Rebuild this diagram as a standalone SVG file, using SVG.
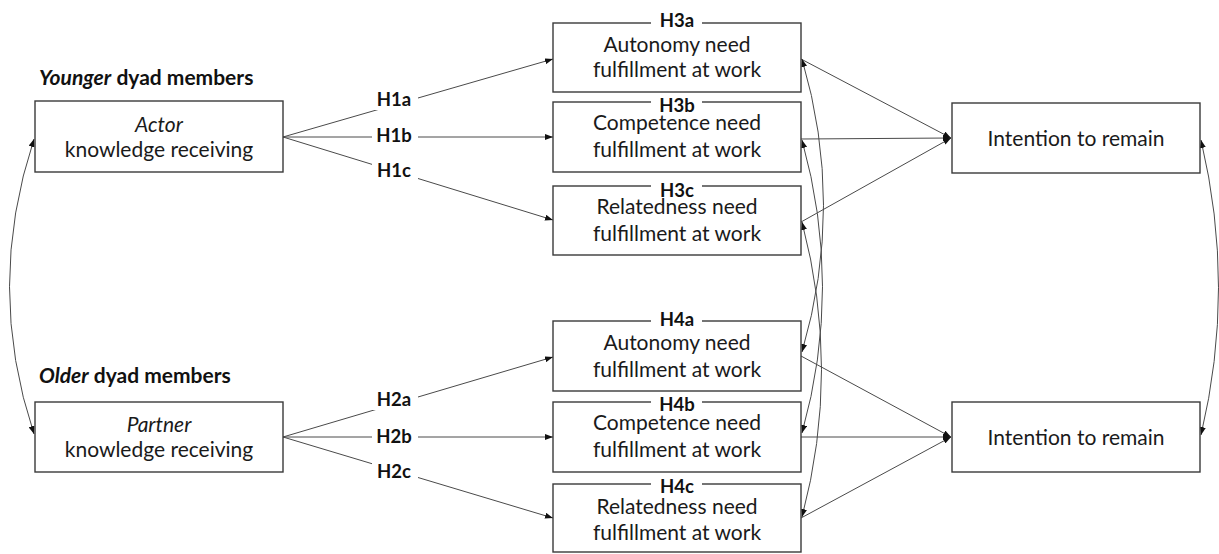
<svg xmlns="http://www.w3.org/2000/svg" width="1219" height="554" viewBox="0 0 1219 554">
<style>
  .box { fill: #ffffff; stroke: #3a3a3a; stroke-width: 1.4; }
  .txt { font-family: Lato, "Liberation Sans", sans-serif; font-size: 21px; fill: #1a1a1a; text-anchor: middle; }
  .it { font-style: italic; }
  .hdr { font-family: Lato, "Liberation Sans", sans-serif; font-size: 21px; font-weight: bold; fill: #111; }
  .lbl { font-family: Lato, "Liberation Sans", sans-serif; font-size: 18.5px; font-weight: bold; fill: #111; text-anchor: middle; }
  .bg { fill: #ffffff; }
  .ln { fill: none; stroke: #4a4a4a; stroke-width: 1; }
</style>
<defs>
  <marker id="ah" viewBox="0 0 8 6" refX="8" refY="3" markerWidth="8" markerHeight="6" markerUnits="userSpaceOnUse" orient="auto-start-reverse">
    <path d="M0,0 L8,3 L0,6 z" fill="#111"/>
  </marker>
</defs>
<rect width="1219" height="554" fill="#ffffff"/>

<g id="connectors">
  <path class="ln" d="M283,137 L553,59" marker-end="url(#ah)"/>
  <path class="ln" d="M283,137 L553,137" marker-end="url(#ah)"/>
  <path class="ln" d="M283,137 L553,220" marker-end="url(#ah)"/>
  <path class="ln" d="M283,437 L553,357" marker-end="url(#ah)"/>
  <path class="ln" d="M283,437 L553,437" marker-end="url(#ah)"/>
  <path class="ln" d="M283,437 L553,518" marker-end="url(#ah)"/>
  <path class="ln" d="M801,59 L951,138" marker-end="url(#ah)"/>
  <path class="ln" d="M801,139 L951,138" marker-end="url(#ah)"/>
  <path class="ln" d="M801,222 L951,138" marker-end="url(#ah)"/>
  <path class="ln" d="M801,356 L951,437" marker-end="url(#ah)"/>
  <path class="ln" d="M801,437 L951,437" marker-end="url(#ah)"/>
  <path class="ln" d="M801,518 L951,437" marker-end="url(#ah)"/>
  <path class="ln" d="M34,139 Q-15,287 34,434" marker-start="url(#ah)" marker-end="url(#ah)"/>
  <path class="ln" d="M1201,140 Q1236,288 1201,435" marker-start="url(#ah)" marker-end="url(#ah)"/>
  <path class="ln" d="M802,59 Q845,205 802,352" marker-start="url(#ah)" marker-end="url(#ah)"/>
  <path class="ln" d="M802,140 Q843,287 802,433" marker-start="url(#ah)" marker-end="url(#ah)"/>
  <path class="ln" d="M802,222 Q841,370 802,517" marker-start="url(#ah)" marker-end="url(#ah)"/>
  <rect class="bg" x="372" y="88" width="46" height="22"/>
  <text class="lbl" x="394" y="106">H1a</text>
  <rect class="bg" x="372" y="124" width="46" height="22"/>
  <text class="lbl" x="394" y="142">H1b</text>
  <rect class="bg" x="372" y="160" width="46" height="22"/>
  <text class="lbl" x="394" y="177">H1c</text>
  <rect class="bg" x="372" y="388" width="46" height="22"/>
  <text class="lbl" x="394" y="406">H2a</text>
  <rect class="bg" x="372" y="425" width="46" height="22"/>
  <text class="lbl" x="394" y="443">H2b</text>
  <rect class="bg" x="372" y="461" width="46" height="22"/>
  <text class="lbl" x="394" y="478">H2c</text>
</g>

<g id="younger-header">
  <text class="hdr" x="39" y="85"><tspan font-style="italic">Younger</tspan> dyad members</text>
</g>
<g id="older-header">
  <text class="hdr" x="39" y="383"><tspan font-style="italic">Older</tspan> dyad members</text>
</g>

<g id="actor">
  <rect class="box" x="35" y="101" width="248" height="71"/>
  <text class="txt it" x="159" y="132">Actor</text>
  <text class="txt" x="159" y="157">knowledge receiving</text>
</g>
<g id="partner">
  <rect class="box" x="35" y="402" width="248" height="70"/>
  <text class="txt it" x="159" y="432">Partner</text>
  <text class="txt" x="159" y="457">knowledge receiving</text>
</g>

<g id="h3a">
  <rect class="box" x="553" y="23" width="248" height="69"/>
  <rect class="bg" x="651" y="14" width="51" height="14"/>
  <text class="lbl" x="677" y="27">H3a</text>
  <text class="txt" x="677" y="52">Autonomy need</text>
  <text class="txt" x="677" y="77">fulfillment at work</text>
</g>
<g id="h3b">
  <rect class="box" x="553" y="102" width="248" height="70"/>
  <rect class="bg" x="651" y="98" width="51" height="12"/>
  <text class="lbl" x="677" y="112">H3b</text>
  <text class="txt" x="677" y="130">Competence need</text>
  <text class="txt" x="677" y="157">fulfillment at work</text>
</g>
<g id="h3c">
  <rect class="box" x="553" y="186" width="248" height="69"/>
  <rect class="bg" x="651" y="182" width="51" height="12"/>
  <text class="lbl" x="677" y="197">H3c</text>
  <text class="txt" x="677" y="214">Relatedness need</text>
  <text class="txt" x="677" y="241">fulfillment at work</text>
</g>

<g id="h4a">
  <rect class="box" x="553" y="321" width="248" height="70"/>
  <rect class="bg" x="651" y="312" width="51" height="14"/>
  <text class="lbl" x="677" y="326">H4a</text>
  <text class="txt" x="677" y="350">Autonomy need</text>
  <text class="txt" x="677" y="377">fulfillment at work</text>
</g>
<g id="h4b">
  <rect class="box" x="553" y="402" width="248" height="70"/>
  <rect class="bg" x="651" y="398" width="51" height="12"/>
  <text class="lbl" x="677" y="411">H4b</text>
  <text class="txt" x="677" y="430">Competence need</text>
  <text class="txt" x="677" y="457">fulfillment at work</text>
</g>
<g id="h4c">
  <rect class="box" x="553" y="484" width="248" height="68"/>
  <rect class="bg" x="651" y="480" width="51" height="12"/>
  <text class="lbl" x="677" y="493">H4c</text>
  <text class="txt" x="677" y="514">Relatedness need</text>
  <text class="txt" x="677" y="540">fulfillment at work</text>
</g>

<g id="intention-upper">
  <rect class="box" x="952" y="103" width="248" height="70"/>
  <text class="txt" x="1076" y="146">Intention to remain</text>
</g>
<g id="intention-lower">
  <rect class="box" x="952" y="402" width="248" height="70"/>
  <text class="txt" x="1076" y="445">Intention to remain</text>
</g>
</svg>
